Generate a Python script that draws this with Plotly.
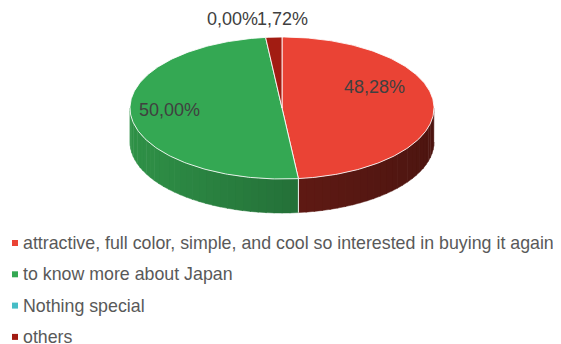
import numpy as np
import plotly.graph_objects as go

categories = ["attractive, full color, simple, and cool so interested in buying it again",
              "to know more about Japan", "Nothing special", "others"]
values = [48.28, 50.00, 0.00, 1.72]
labels_txt = ["48,28%", "50,00%", "0,00%", "1,72%"]
top_colors = ["#EA4335", "#34A853", "#46BDC6", "#A21C12"]
side_left = ["#741f18", "#2f9147", "#2a8a92", "#6a1510"]
side_right = ["#4d1510", "#1b552c", "#1f5f64", "#4a100c"]

# geometry (screen pixel space; page body has an 8px margin)
cx, cy, rx, ry, depth = 282, 108, 152, 71, 34
W, H = 561, 344
OFF = 8


def pt(theta_deg, r=1.0, dy=0.0):
    t = np.radians(theta_deg)
    return cx + r * rx * np.sin(t), cy - r * ry * np.cos(t) + dy


def mix(c1, c2, f):
    a = [int(c1[i:i + 2], 16) for i in (1, 3, 5)]
    b = [int(c2[i:i + 2], 16) for i in (1, 3, 5)]
    return "rgb(%d,%d,%d)" % tuple(round(a[k] + (b[k] - a[k]) * f) for k in range(3))


fig = go.Figure()
total = sum(values)
starts = np.concatenate([[0], np.cumsum(values)[:-1]]) / total * 360
ends = np.cumsum(values) / total * 360

# side walls (front half only: 90..270 deg), drawn as gradient strips
for i in range(len(values)):
    a, b = max(starts[i], 90), min(ends[i], 270)
    if b <= a:
        continue
    n = max(2, int((b - a) / 3))
    edges = np.linspace(a, b, n + 1)
    for k in range(n):
        e0, e1 = edges[k], min(edges[k + 1] + 0.3, b)
        th = np.linspace(e0, e1, 4)
        xs_t, ys_t = pt(th)
        xs_b, ys_b = pt(th[::-1], dy=depth)
        xs = np.concatenate([xs_t, xs_b])
        ys = np.concatenate([ys_t, ys_b])
        xm = np.mean(xs_t)
        f = (xm - (cx - rx)) / (2 * rx)
        col = mix(side_left[i], side_right[i], f)
        fig.add_trace(go.Scatter(x=xs, y=ys, fill="toself", mode="lines",
                                 line=dict(width=0.5, color=col), fillcolor=col,
                                 hoverinfo="skip", showlegend=False))
    for edge in (starts[i], ends[i]):
        if 90 < edge < 270:
            x0, y0 = pt(edge)
            fig.add_trace(go.Scatter(x=[x0, x0], y=[y0, y0 + depth], mode="lines",
                                     line=dict(color="rgba(255,255,255,0.8)", width=1),
                                     hoverinfo="skip", showlegend=False))

# top faces
for i in range(len(values)):
    if values[i] <= 0:
        continue
    th = np.linspace(starts[i], ends[i], max(3, int(values[i] * 4)))
    xs, ys = pt(th)
    xs = np.concatenate([[cx], xs, [cx]])
    ys = np.concatenate([[cy], ys, [cy]])
    fig.add_trace(go.Scatter(x=xs, y=ys, fill="toself", mode="lines",
                             line=dict(color="rgba(255,255,255,0.85)", width=1),
                             fillcolor=top_colors[i], hoverinfo="skip", showlegend=False))

# data labels
lab_pos = [(374, 87), (169, 110), (232, 19), (282, 19)]
for i in range(len(values)):
    fig.add_annotation(x=lab_pos[i][0], y=lab_pos[i][1], text=labels_txt[i], showarrow=False,
                       font=dict(size=18, color="#404040", family="Liberation Sans"))

# legend (swatch + text rows)
row_y0, row_dy = 243, 31.3
for i, c in enumerate(categories):
    yy = row_y0 + i * row_dy
    fig.add_shape(type="rect", xref="x", yref="y", x0=12, x1=18, y0=yy - 3, y1=yy + 3,
                  fillcolor=top_colors[i], line=dict(width=0))
    fig.add_annotation(x=21, y=yy, text=c, showarrow=False, xanchor="left", yanchor="middle",
                       font=dict(size=17.8, color="#595959", family="Liberation Sans"))

fig.update_layout(
    width=W - OFF, height=H - OFF, margin=dict(l=0, r=0, t=0, b=0),
    paper_bgcolor="white", plot_bgcolor="white",
    xaxis=dict(range=[OFF, W], visible=False, fixedrange=True),
    yaxis=dict(range=[H, OFF], visible=False, fixedrange=True),
    showlegend=False,
)
fig.write_html("out.html")
